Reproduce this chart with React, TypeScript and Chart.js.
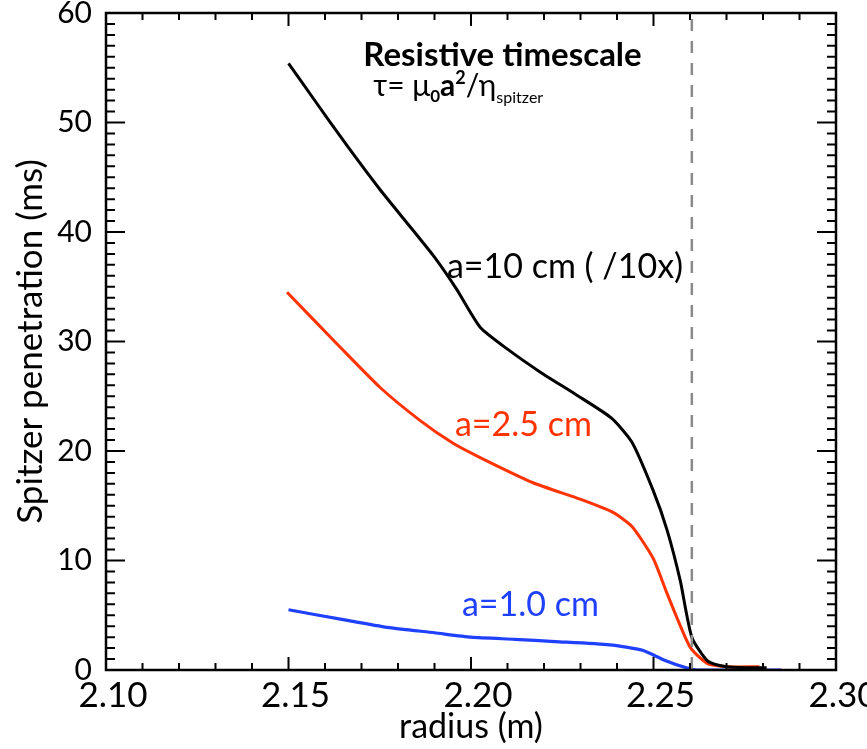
import React, { useEffect, useRef } from "react";
import { Chart, registerables } from "chart.js";

Chart.register(...registerables);

// ---- data ----
const xTickValues = [2.1, 2.15, 2.2, 2.25, 2.3];
const yTickValues = [0, 10, 20, 30, 40, 50, 60];

const radiusA10 = [2.150, 2.157, 2.166, 2.175, 2.184, 2.190, 2.196, 2.2025, 2.210, 2.219, 2.229, 2.2385, 2.2441, 2.2499, 2.2537, 2.2573, 2.2605, 2.2649, 2.270, 2.276, 2.281];
const tauA10 = [55.4, 52.1, 47.9, 43.9, 40.2, 37.7, 34.8, 31.3, 29.3, 27.2, 25.1, 23.0, 20.8, 16.4, 12.8, 8.2, 3.0, 0.8, 0.3, 0.2, 0.2];

const radiusA25 = [2.1496, 2.1641, 2.1751, 2.186, 2.1951, 2.2025, 2.217, 2.2299, 2.2389, 2.2441, 2.2499, 2.2537, 2.260, 2.2647, 2.2701, 2.279];
const tauA25 = [34.5, 29.5, 25.8, 22.8, 20.7, 19.4, 17.1, 15.6, 14.4, 13.1, 10.2, 7.0, 2.1, 0.6, 0.3, 0.3];

const radiusA10mm = [2.150, 2.165, 2.177, 2.190, 2.200, 2.212, 2.223, 2.238, 2.247, 2.253, 2.259, 2.262, 2.270, 2.285];
const tauA10mm = [5.5, 4.6, 3.9, 3.4, 3.0, 2.8, 2.6, 2.3, 1.8, 0.9, 0.2, 0.0, 0.0, 0.0];

const separatrixRadius = 2.2605;

const seriesLabels = ["a=10 cm ( /10x)", "a=2.5 cm", "a=1.0 cm"];
const titleText = "Resistive timescale";
const xTitle = "radius (m)";
const yTitle = "Spitzer penetration (ms)";

// ---- styles ----
const FONT = "Lato, 'Open Sans', sans-serif";
const BLACK = "#000000";
const RED = "#ff3300";
const BLUE = "#1f40ff";

const toPoints = (xs: number[], ys: number[]) => xs.map((x, i) => ({ x, y: ys[i] }));

const framePlugin = {
  id: "frameTicks",
  afterDatasetsDraw(chart: any) {
    const { ctx, chartArea, scales } = chart;
    const { left, right, top, bottom } = chartArea;
    const xs = scales.x;
    const ys = scales.y;
    ctx.save();
    // separatrix dashed line
    const sx = xs.getPixelForValue(separatrixRadius);
    ctx.strokeStyle = "#8a8a8a";
    ctx.lineWidth = 2.5;
    ctx.setLineDash([12, 10]);
    ctx.beginPath();
    ctx.moveTo(sx, top + 6);
    ctx.lineTo(sx, bottom);
    ctx.stroke();
    ctx.setLineDash([]);

    // frame
    ctx.strokeStyle = "#000";
    ctx.lineWidth = 2.5;
    ctx.strokeRect(left, top, right - left, bottom - top);

    ctx.lineWidth = 2;
    // y ticks (left & right)
    for (let v = 0; v <= 60; v += 1) {
      const y = ys.getPixelForValue(v);
      const len = v % 10 === 0 ? 19 : 9;
      ctx.beginPath();
      ctx.moveTo(left, y);
      ctx.lineTo(left + len, y);
      ctx.moveTo(right, y);
      ctx.lineTo(right - len, y);
      ctx.stroke();
    }
    // x ticks (top & bottom)
    for (let i = 0; i <= 20; i++) {
      const x = xs.getPixelForValue(2.1 + i * 0.01);
      const len = i % 5 === 0 ? 13 : 7;
      ctx.beginPath();
      ctx.moveTo(x, bottom);
      ctx.lineTo(x, bottom - len);
      ctx.moveTo(x, top);
      ctx.lineTo(x, top + len);
      ctx.stroke();
    }

    // annotations
    ctx.textBaseline = "alphabetic";
    ctx.textAlign = "left";
    ctx.fillStyle = "#000";
    ctx.font = `bold 33px ${FONT}`;
    ctx.fillText(titleText, xs.getPixelForValue(2.1705), ys.getPixelForValue(55.2));

    // formula tau = mu0 a^2 / eta_spitzer
    let fx = xs.getPixelForValue(2.1732);
    const fy = ys.getPixelForValue(52.4);
    const put = (t: string, font: string, dy: number) => {
      ctx.font = font;
      ctx.fillText(t, fx, fy + dy);
      fx += ctx.measureText(t).width;
    };
    put("τ= μ", `30px ${FONT}`, 0);
    put("0", `bold 17px ${FONT}`, 6);
    put("a", `bold 30px ${FONT}`, 0);
    put("2", `bold 18px ${FONT}`, -12);
    put("/η", `30px ${FONT}`, 0);
    put("spitzer", `16px ${FONT}`, 7);

    // series labels
    ctx.textBaseline = "middle";
    ctx.font = `34px ${FONT}`;
    ctx.fillStyle = BLACK;
    ctx.fillText(seriesLabels[0], xs.getPixelForValue(2.1934), ys.getPixelForValue(36.8));
    ctx.fillStyle = RED;
    ctx.fillText(seriesLabels[1], xs.getPixelForValue(2.1956), ys.getPixelForValue(22.4));
    ctx.fillStyle = BLUE;
    ctx.fillText(seriesLabels[2], xs.getPixelForValue(2.1975), ys.getPixelForValue(5.95));
    ctx.restore();
  },
};

export default function App() {
  const ref = useRef<HTMLCanvasElement>(null);
  useEffect(() => {
    if (!ref.current) return;
    const chart = new Chart(ref.current, {
      type: "line",
      data: {
        datasets: [
          { label: seriesLabels[0], data: toPoints(radiusA10, tauA10), borderColor: BLACK, borderWidth: 3, pointRadius: 0, tension: 0.2, fill: false },
          { label: seriesLabels[1], data: toPoints(radiusA25, tauA25), borderColor: RED, borderWidth: 3, pointRadius: 0, tension: 0.2, fill: false },
          { label: seriesLabels[2], data: toPoints(radiusA10mm, tauA10mm), borderColor: BLUE, borderWidth: 3.2, pointRadius: 0, tension: 0.2, fill: false },
        ],
      },
      options: {
        animation: false,
        responsive: false,
        layout: { padding: { left: 0, top: 13, right: 31, bottom: 0 } },
        plugins: { legend: { display: false }, tooltip: { enabled: false } },
        scales: {
          x: {
            type: "linear",
            min: 2.1,
            max: 2.3,
            grid: { display: false, drawTicks: false },
            border: { display: false },
            afterBuildTicks: (s: any) => { s.ticks = xTickValues.map((v) => ({ value: v })); },
            afterFit: (s: any) => { s.height = 79; s.paddingLeft = 0; s.paddingRight = 0; },
            ticks: {
              autoSkip: false,
              maxRotation: 0,
              padding: 5,
              labelOffset: 7,
              color: "#000",
              font: { family: FONT, size: 35 },
              callback: (v: any) => Number(v).toFixed(2),
            },
            title: { display: true, text: xTitle, color: "#000", font: { family: FONT, size: 34 }, padding: { top: 0, bottom: 2 } },
          },
          y: {
            type: "linear",
            min: 0,
            max: 60,
            grid: { display: false, drawTicks: false },
            border: { display: false },
            afterBuildTicks: (s: any) => { s.ticks = yTickValues.map((v) => ({ value: v })); },
            afterFit: (s: any) => { s.width = 106; s.paddingTop = 0; s.paddingBottom = 0; },
            ticks: {
              autoSkip: false,
              padding: 14,
              color: "#000",
              font: { family: FONT, size: 30 },
              callback: (v: any) => String(v),
            },
            title: { display: true, text: yTitle, color: "#000", font: { family: FONT, size: 35 }, padding: { top: 10, bottom: 0 } },
          },
        },
      },
      plugins: [framePlugin],
    });
    return () => chart.destroy();
  }, []);
  return (
    <div style={{ position: "fixed", left: 0, top: 0, width: 867, height: 749, background: "#fff" }}>
      <canvas ref={ref} width={867} height={749} style={{ width: 867, height: 749 }} />
    </div>
  );
}
